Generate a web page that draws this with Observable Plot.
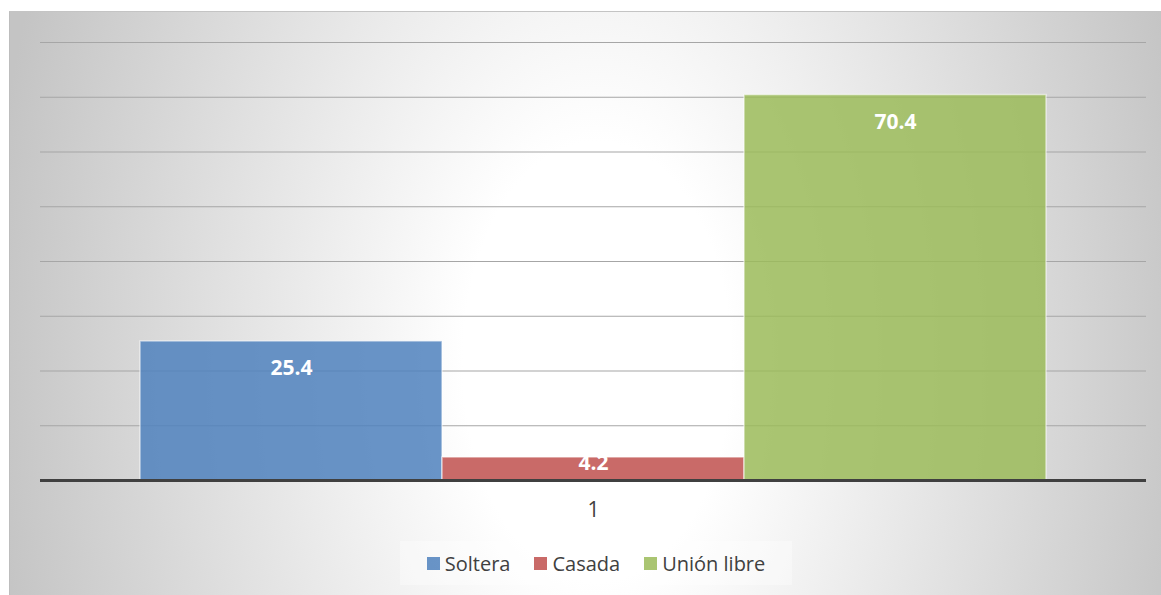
<!DOCTYPE html>
<html>
<head>
<meta charset="utf-8">
<script src="https://cdn.jsdelivr.net/npm/d3@7"></script>
<script src="https://cdn.jsdelivr.net/npm/@observablehq/plot@0.6"></script>
<style>
  html, body { margin: 0; padding: 0; background: #ffffff; }
  body { width: 1161px; height: 595px; position: relative; overflow: hidden; font-family: "Open Sans", sans-serif; }
  #chart {
    position: absolute; left: 9px; top: 11px; width: 1151px; height: 583px;
    border-left: 1px solid #bdbdbd; border-top: 1px solid #c4c4c4;
    background: radial-gradient(ellipse 610px 1000px at 51% 60%, #ffffff 0%, #ffffff 22%, #c4c4c4 100%);
  }
  #plot { position: absolute; left: 0; top: 0; }
  #legend {
    position: absolute; left: 390px; top: 529px; height: 44px; width: 392px;
    display: flex; align-items: center; justify-content: center; gap: 24px;
    background: rgba(255,255,255,0.35);
    font-size: 20px; color: #404040;
  }
  .item { display: flex; align-items: center; gap: 5px; }
  .sw { width: 13px; height: 13px; display: inline-block; }
</style>
</head>
<body>
<div id="chart">
  <div id="plot"></div>
  <div id="legend"></div>
</div>
<script>
const series = ["Soltera", "Casada", "Unión libre"];
const values = [25.4, 4.2, 70.4];
const colors = ["#4f81bd", "#c0504d", "#9bbb59"];
const gridTicks = [10, 20, 30, 40, 50, 60, 70, 80];
const categoryLabels = ["1"];

const data = series.map((s, i) => ({ series: s, value: values[i] }));

const chart = Plot.plot({
  width: 1151,
  height: 520,
  marginLeft: 30,
  marginRight: 15,
  marginTop: 30,
  marginBottom: 52,
  style: { background: "transparent", fontFamily: "'Open Sans', sans-serif" },
  x: { type: "band", domain: series, paddingInner: 0, paddingOuter: 0.327, axis: null },
  y: { domain: [0, 80], axis: null },
  color: { domain: series, range: colors },
  marks: [
    Plot.ruleY(gridTicks, { stroke: "#a6a6a6", strokeWidth: 1.2 }),
    Plot.barY(data, {
      x: "series", y: "value", fill: "series", fillOpacity: 0.85,
      stroke: "#ffffff", strokeOpacity: 0.55, strokeWidth: 1.5
    }),
    Plot.ruleY([0], { stroke: "#404040", strokeWidth: 3 }),
    // data labels: "inside end", kept inside the bar for short bars
    Plot.text(data, {
      x: "series", y: d => Math.max(d.value - 4.9, 3.1),
      text: d => d.value.toFixed(1),
      fill: "#ffffff", fontWeight: "bold", fontSize: 21, lineAnchor: "middle"
    }),
    Plot.text(categoryLabels, {
      frameAnchor: "bottom", dy: 30, text: d => d, lineAnchor: "middle",
      fill: "#404040", fontSize: 21
    })
  ]
});
document.getElementById("plot").appendChild(chart);

const legend = document.getElementById("legend");
series.forEach((s, i) => {
  const item = document.createElement("div");
  item.className = "item";
  const sw = document.createElement("span");
  sw.className = "sw";
  sw.style.background = d3.color(colors[i]).copy({opacity: 0.85}).toString();
  const t = document.createElement("span");
  t.textContent = s;
  item.appendChild(sw);
  item.appendChild(t);
  legend.appendChild(item);
});
</script>
</body>
</html>
